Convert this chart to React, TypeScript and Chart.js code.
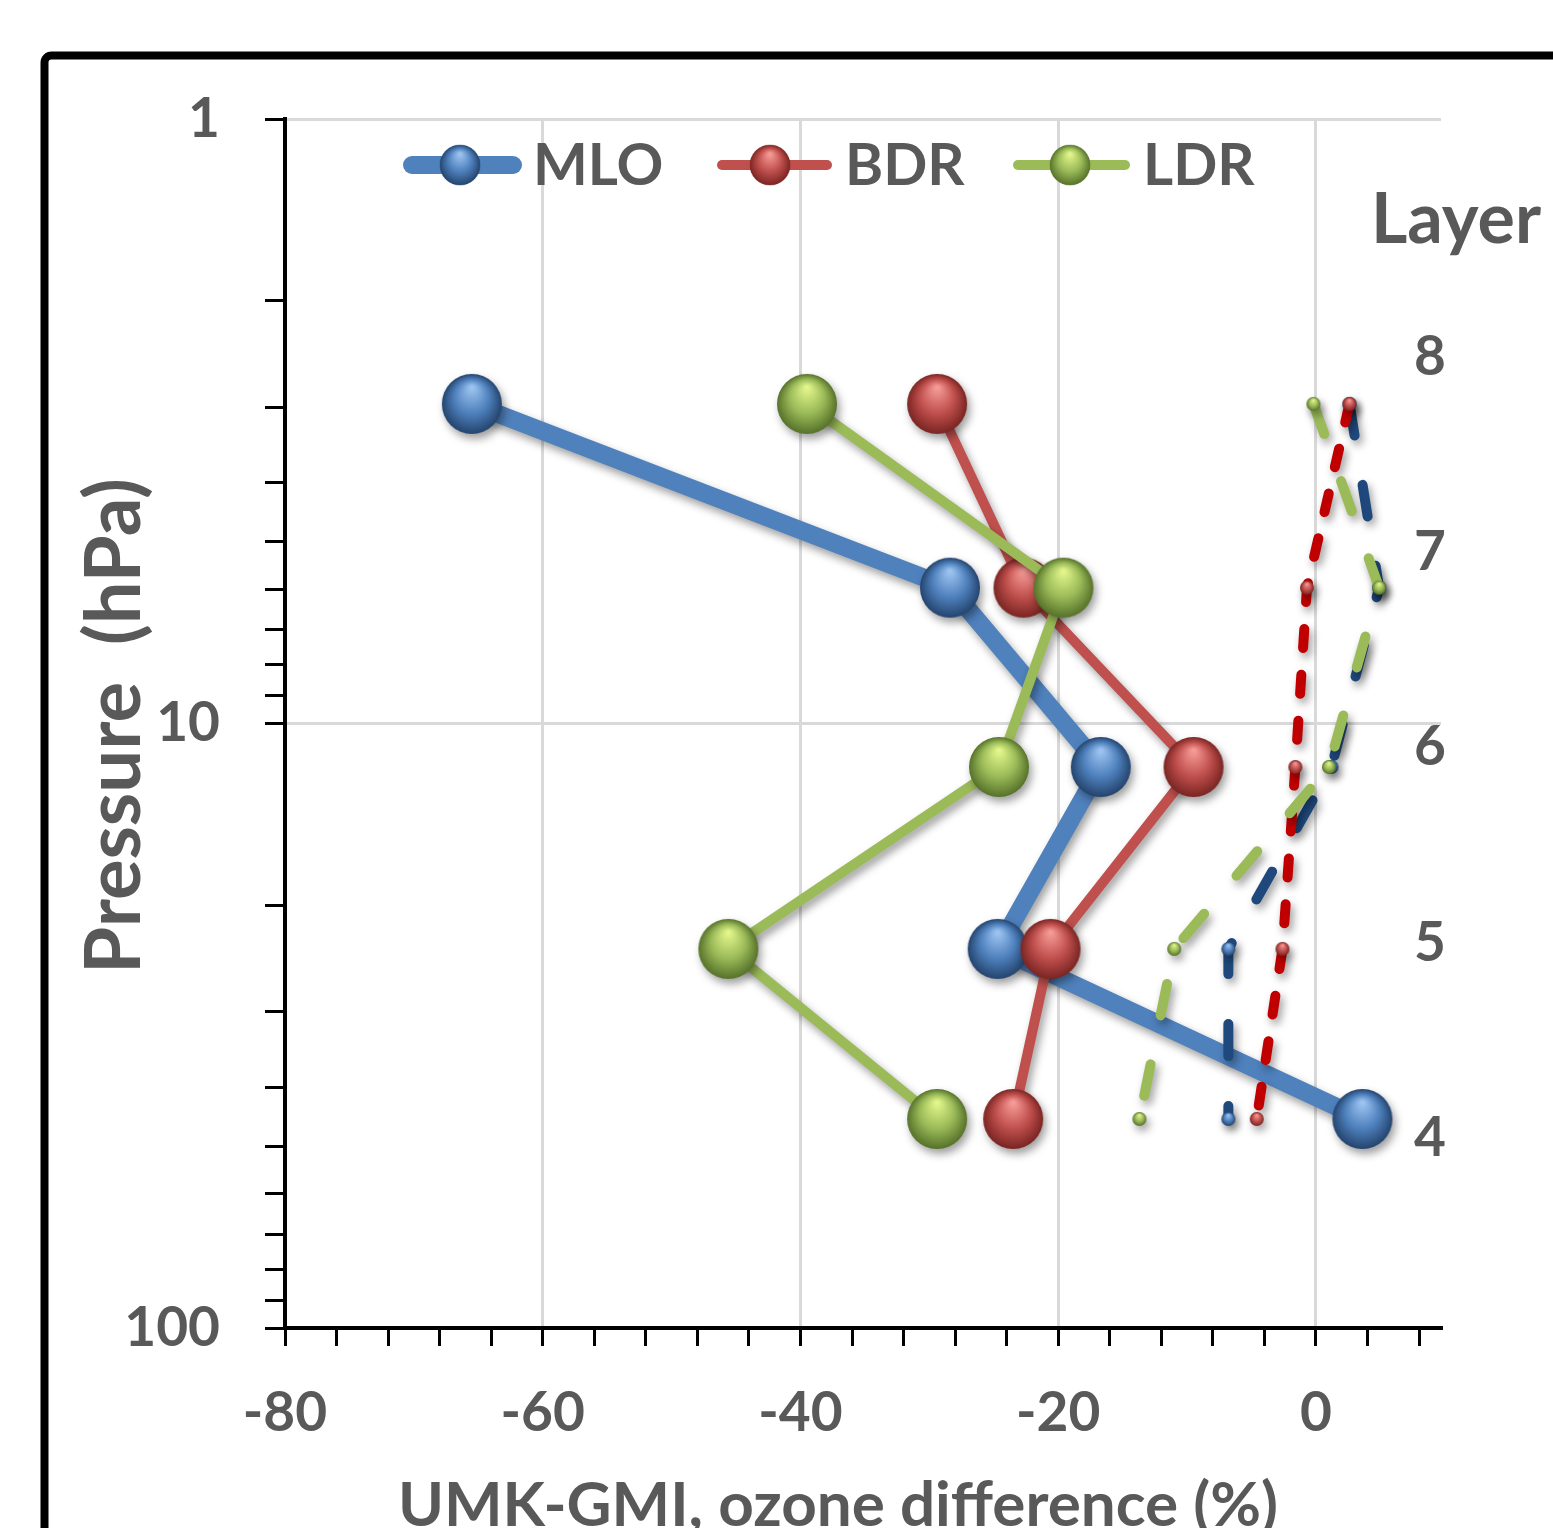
import React, { useEffect, useRef } from 'react';
import { Chart, registerables } from 'chart.js';

Chart.register(...registerables);

// ---- data ----
const pressures = [2.96, 5.96, 11.8, 23.6, 45.1];
const mloValues = [-65.5, -28.4, -16.7, -24.7, 3.6];
const bdrValues = [-29.4, -22.7, -9.5, -20.6, -23.5];
const ldrValues = [-39.5, -19.6, -24.6, -45.6, -29.4];
const mloDashValues = [2.6, 4.9, 1.2, -6.8, -6.8];
const bdrDashValues = [2.6, -0.7, -1.6, -2.6, -4.6];
const ldrDashValues = [-0.2, 4.9, 1.0, -11.0, -13.7];
const seriesNames = ['MLO', 'BDR', 'LDR'];

const xTickValues = [-80, -76, -72, -68, -64, -60, -56, -52, -48, -44, -40, -36, -32, -28, -24, -20, -16, -12, -8, -4, 0, 4, 8];
const xLabelValues = [-80, -60, -40, -20, 0];
const xMin = -80;
const xMax = 9.7;
const yTickValues = [1, 2, 3, 4, 5, 6, 7, 8, 9, 10, 20, 30, 40, 50, 60, 70, 80, 90, 100];
const yLabelValues = [1, 10, 100];
const layerTicks = [4, 5, 6, 7, 8];
const layerMin = 3.027;
const layerMax = 9.219;

const xTitle = 'UMK-GMI, ozone difference (%)';
const yTitle = 'Pressure  (hPa)';
const layerTitle = 'Layer';

const FONT = 'Lato, "Open Sans", sans-serif';
const GREY = '#595959';

function makeSphere(r: number, light: string, base: string, dark: string) {
  const s = Math.ceil(r * 2) + 2;
  const c = document.createElement('canvas');
  c.width = s;
  c.height = s;
  const g = c.getContext('2d') as CanvasRenderingContext2D;
  const cx = s / 2;
  const cy = s / 2;
  const grad = g.createRadialGradient(cx, cy - r * 0.55, r * 0.05, cx, cy, r);
  grad.addColorStop(0, light);
  grad.addColorStop(0.55, base);
  grad.addColorStop(1, dark);
  g.fillStyle = grad;
  g.beginPath();
  g.arc(cx, cy, r, 0, Math.PI * 2);
  g.fill();
  return c;
}

function pts(vals: number[]) {
  return pressures.map((p, i) => ({ x: vals[i], y: p }));
}

export default function App() {
  const ref = useRef<HTMLCanvasElement>(null);

  useEffect(() => {
    const blueBig = makeSphere(30, '#9CC3F0', '#4F81BD', '#24446E');
    const redBig = makeSphere(30, '#F59A96', '#C0504D', '#7A2523');
    const greenBig = makeSphere(30, '#E2F58A', '#9BBB59', '#56722A');
    const blueSmall = makeSphere(7, '#9CC3F0', '#4F81BD', '#24446E');
    const redSmall = makeSphere(7, '#F59A96', '#C0504D', '#7A2523');
    const greenSmall = makeSphere(7, '#E2F58A', '#9BBB59', '#56722A');

    const legendItems = [
      { name: seriesNames[0], color: '#4F81BD', width: 18, x0: 403, x1: 522, cx: 460, tx: 533, sphere: blueBig },
      { name: seriesNames[1], color: '#C0504D', width: 10, x0: 717, x1: 832, cx: 770, tx: 845, sphere: redBig },
      { name: seriesNames[2], color: '#9BBB59', width: 10, x0: 1013, x1: 1130, cx: 1070, tx: 1143, sphere: greenBig },
    ];

    const decor = {
      id: 'decor',
      beforeDatasetDraw(chart: any) {
        const ctx = chart.ctx;
        ctx.save();
        ctx.shadowColor = 'rgba(0,0,0,0.38)';
        ctx.shadowBlur = 8;
        ctx.shadowOffsetX = 3;
        ctx.shadowOffsetY = 5;
      },
      afterDatasetDraw(chart: any) {
        chart.ctx.restore();
      },
      afterDraw(chart: any) {
        const ctx = chart.ctx as CanvasRenderingContext2D;
        ctx.save();
        // frame
        ctx.strokeStyle = '#000';
        ctx.lineWidth = 8;
        ctx.beginPath();
        ctx.moveTo(44.5, 1600);
        ctx.lineTo(44.5, 63);
        ctx.arcTo(44.5, 55.5, 52, 55.5, 7);
        ctx.lineTo(1600, 55.5);
        ctx.stroke();

        // legend
        ctx.fillStyle = GREY;
        for (const it of legendItems) {
          ctx.save();
          ctx.strokeStyle = it.color;
          ctx.lineWidth = it.width;
          ctx.lineCap = 'round';
          ctx.beginPath();
          ctx.moveTo(it.x0 + it.width / 2, 165);
          ctx.lineTo(it.x1 - it.width / 2, 165);
          ctx.stroke();
          ctx.drawImage(it.sphere, it.cx - 21, 165 - 21, 42, 42);
          ctx.restore();
          ctx.font = `bold 58px ${FONT}`;
          ctx.textAlign = 'left';
          ctx.textBaseline = 'alphabetic';
          ctx.fillStyle = GREY;
          ctx.fillText(it.name, it.tx, 185);
        }

        // layer tick labels (secondary axis)
        const ls = chart.scales.layer;
        ctx.font = `bold 55px ${FONT}`;
        ctx.textAlign = 'center';
        ctx.textBaseline = 'middle';
        for (const v of layerTicks) {
          ctx.fillText(String(v), 1430, ls.getPixelForValue(v));
        }

        // Layer title
        ctx.font = `bold 70px ${FONT}`;
        ctx.textAlign = 'center';
        ctx.textBaseline = 'alphabetic';
        ctx.fillText(layerTitle, 1456, 243);

        // x title
        ctx.font = `bold 62px ${FONT}`;
        ctx.fillText(xTitle, 838, 1526);

        // y title
        ctx.save();
        ctx.translate(140, 726);
        ctx.rotate(-Math.PI / 2);
        ctx.font = `bold 76px ${FONT}`;
        ctx.textAlign = 'center';
        ctx.fillText(yTitle, 0, 0);
        ctx.restore();

        ctx.restore();
      },
    };

    const tickFont = { family: FONT, weight: 'bold' as const, size: 55 };

    const chart = new Chart(ref.current as HTMLCanvasElement, {
      type: 'line',
      data: {
        datasets: [
          {
            label: 'LDR dashed', data: pts(ldrDashValues), borderColor: '#9BBB59', borderWidth: 10,
            borderDash: [32, 50], borderCapStyle: 'round', pointStyle: greenSmall, pointRadius: 7, order: 0,
          },
          {
            label: 'BDR dashed', data: pts(bdrDashValues), borderColor: '#C00000', borderWidth: 10,
            borderDash: [19, 27], borderCapStyle: 'round', pointStyle: redSmall, pointRadius: 7, order: 1,
          },
          {
            label: 'MLO dashed', data: pts(mloDashValues), borderColor: '#1F497D', borderWidth: 10,
            borderDash: [32, 50], borderCapStyle: 'round', pointStyle: blueSmall, pointRadius: 7, order: 2,
          },
          {
            label: seriesNames[2], data: pts(ldrValues), borderColor: '#9BBB59', borderWidth: 10,
            borderCapStyle: 'round', borderJoinStyle: 'round', pointStyle: greenBig, pointRadius: 30, order: 3,
          },
          {
            label: seriesNames[1], data: pts(bdrValues), borderColor: '#C0504D', borderWidth: 10,
            borderCapStyle: 'round', borderJoinStyle: 'round', pointStyle: redBig, pointRadius: 30, order: 4,
          },
          {
            label: seriesNames[0], data: pts(mloValues), borderColor: '#4F81BD', borderWidth: 18,
            borderCapStyle: 'round', borderJoinStyle: 'round', pointStyle: blueBig, pointRadius: 30, order: 5,
          },
        ] as any,
      },
      options: {
        responsive: false,
        animation: false,
        events: [],
        layout: { padding: { top: 119, left: 0, right: 0, bottom: 0 } },
        plugins: { legend: { display: false }, tooltip: { enabled: false } },
        elements: { line: { tension: 0, fill: false } },
        scales: {
          x: {
            type: 'linear', position: 'bottom', min: xMin, max: xMax, display: true,
            afterBuildTicks: (s: any) => { s.ticks = xTickValues.map((v) => ({ value: v })); },
            afterFit: (s: any) => { s.height = 200; },
            grid: {
              color: (c: any) => (c.tick && xLabelValues.includes(c.tick.value) && c.tick.value !== -80 ? '#d9d9d9' : 'rgba(0,0,0,0)'),
              lineWidth: 3, tickColor: '#000', tickWidth: 3, tickLength: 18, drawTicks: true,
            },
            border: { display: true, color: '#000', width: 4 },
            ticks: {
              autoSkip: false, maxRotation: 0, minRotation: 0, padding: 34, color: GREY, font: tickFont,
              callback: (v: any) => (xLabelValues.includes(Number(v)) ? String(v) : ''),
            },
          },
          y: {
            type: 'logarithmic', position: 'left', min: 1, max: 100, reverse: true, display: true,
            afterBuildTicks: (s: any) => { s.ticks = yTickValues.map((v) => ({ value: v })); },
            afterFit: (s: any) => { s.width = 285; },
            grid: {
              color: (c: any) => (c.tick && (c.tick.value === 1 || c.tick.value === 10) ? '#d9d9d9' : 'rgba(0,0,0,0)'),
              lineWidth: 3, tickColor: '#000', tickWidth: 3, tickLength: 20, drawTicks: true,
            },
            border: { display: true, color: '#000', width: 4 },
            ticks: {
              autoSkip: false, padding: 45, color: GREY, font: tickFont,
              callback: (v: any) => (yLabelValues.includes(Number(v)) ? String(v) : ''),
            },
          },
          layer: {
            type: 'linear', position: 'right', min: layerMin, max: layerMax, display: true,
            afterBuildTicks: (s: any) => { s.ticks = layerTicks.map((v) => ({ value: v })); },
            afterFit: (s: any) => { s.width = 112; },
            grid: { display: false, drawTicks: false, drawOnChartArea: false },
            border: { display: false },
            ticks: { display: false },
          },
        } as any,
      },
      plugins: [decor],
    } as any);

    return () => chart.destroy();
  }, []);

  return (
    <div style={{ position: 'absolute', left: 0, top: 0, width: 1553, height: 1528, background: '#fff' }}>
      <canvas ref={ref} width={1553} height={1528} style={{ display: 'block', width: 1553, height: 1528 }} />
    </div>
  );
}
